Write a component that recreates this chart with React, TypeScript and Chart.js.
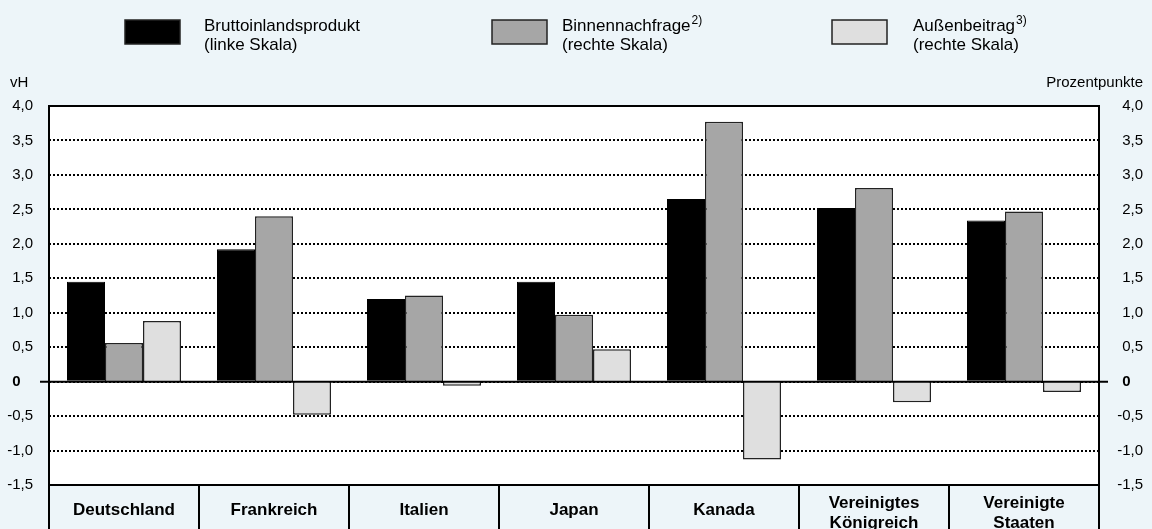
import React, { useEffect, useRef } from "react";
import { Chart, registerables } from "chart.js";

Chart.register(...registerables);

const CATEGORIES: string[][] = [
  ["Deutschland"],
  ["Frankreich"],
  ["Italien"],
  ["Japan"],
  ["Kanada"],
  ["Vereinigtes", "Königreich"],
  ["Vereinigte", "Staaten"],
];
const BIP = [1.45, 1.92, 1.2, 1.45, 2.65, 2.52, 2.34];
const BINNEN = [0.56, 2.4, 1.25, 0.97, 3.77, 2.81, 2.47];
const AUSSEN = [0.88, -0.48, -0.06, 0.47, -1.13, -0.3, -0.15];

const SERIES_NAMES = ["Bruttoinlandsprodukt", "Binnennachfrage", "Außenbeitrag"];
const SERIES_SUPERSCRIPTS = ["", "2)", "3)"];
const SERIES_SCALES = ["(linke Skala)", "(rechte Skala)", "(rechte Skala)"];
const SERIES_COLORS = ["#000000", "#a6a6a6", "#dfdfdf"];

const Y_MIN = -1.5;
const Y_MAX = 4;
const Y_STEP = 0.5;
const LEFT_AXIS_TITLE = "vH";
const RIGHT_AXIS_TITLE = "Prozentpunkte";

const BG = "#edf5f9";
const FONT = "'Liberation Sans', Arial, Helvetica, sans-serif";

const fmtTick = (v: number) => (v === 0 ? "0   " : v.toFixed(1).replace(".", ","));

const LEGEND_BOX_X = [125, 492, 832];
const LEGEND_TEXT_X = [204, 562, 913];

const decorPlugin = {
  id: "decor",
  beforeDraw(chart: any) {
    const { ctx, chartArea: a, width, height } = chart;
    ctx.save();
    ctx.fillStyle = BG;
    ctx.fillRect(0, 0, width, height);
    ctx.fillStyle = "#ffffff";
    ctx.fillRect(a.left, a.top, a.right - a.left, a.bottom - a.top);
    ctx.restore();
  },
  afterDatasetsDraw(chart: any) {
    const { ctx, chartArea: a } = chart;
    const ys = chart.scales.y;
    const xs = chart.scales.x;
    ctx.save();
    // zero line
    const y0 = ys.getPixelForValue(0);
    ctx.strokeStyle = "#000";
    ctx.lineWidth = 2;
    ctx.beginPath();
    ctx.moveTo(a.left - 9, y0);
    ctx.lineTo(a.right + 9, y0);
    ctx.stroke();
    // plot border
    ctx.strokeRect(a.left, a.top, a.right - a.left, a.bottom - a.top);

    // category labels
    ctx.fillStyle = "#000";
    ctx.font = `bold 17px ${FONT}`;
    ctx.textAlign = "center";
    ctx.textBaseline = "middle";
    const labels = chart.data.labels as string[][];
    labels.forEach((lab, i) => {
      const x = xs.getPixelForValue(i);
      const n = lab.length;
      lab.forEach((line, k) => {
        ctx.fillText(line, x, a.bottom + 25 - (n - 1) * 7 + k * 20);
      });
    });

    // axis titles
    ctx.font = `15px ${FONT}`;
    ctx.textBaseline = "alphabetic";
    ctx.textAlign = "left";
    ctx.fillText(LEFT_AXIS_TITLE, 10, 87);
    ctx.textAlign = "right";
    ctx.fillText(RIGHT_AXIS_TITLE, 1143, 87);

    // legend
    chart.data.datasets.forEach((ds: any, i: number) => {
      const bx = LEGEND_BOX_X[i];
      ctx.fillStyle = ds.backgroundColor;
      ctx.fillRect(bx, 20, 55, 24);
      ctx.strokeStyle = "#222";
      ctx.lineWidth = 1.5;
      ctx.strokeRect(bx, 20, 55, 24);
      ctx.fillStyle = "#000";
      ctx.textAlign = "left";
      ctx.textBaseline = "alphabetic";
      ctx.font = `17px ${FONT}`;
      const tx = LEGEND_TEXT_X[i];
      ctx.fillText(SERIES_NAMES[i], tx, 31);
      const w = ctx.measureText(SERIES_NAMES[i]).width;
      ctx.fillText(SERIES_SCALES[i], tx, 50);
      if (SERIES_SUPERSCRIPTS[i]) {
        ctx.font = `12px ${FONT}`;
        ctx.fillText(SERIES_SUPERSCRIPTS[i], tx + w + 1, 24);
      }
    });
    ctx.restore();
  },
};

export default function App() {
  const ref = useRef<HTMLCanvasElement | null>(null);
  useEffect(() => {
    if (!ref.current) return;
    const tickFont = (c: any) =>
      c.tick && c.tick.value === 0
        ? { family: FONT, size: 15, weight: "bold" as const }
        : { family: FONT, size: 15 };
    const chart = new Chart(ref.current, {
      type: "bar",
      data: {
        labels: CATEGORIES as any,
        datasets: [
          {
            label: SERIES_NAMES[0],
            data: BIP,
            yAxisID: "y",
            backgroundColor: SERIES_COLORS[0],
            borderColor: "#000",
            borderWidth: 1,
            barPercentage: 1,
            categoryPercentage: 0.76,
          },
          {
            label: SERIES_NAMES[1],
            data: BINNEN,
            yAxisID: "y1",
            backgroundColor: SERIES_COLORS[1],
            borderColor: "#222",
            borderWidth: 1.5,
            barPercentage: 1,
            categoryPercentage: 0.76,
          },
          {
            label: SERIES_NAMES[2],
            data: AUSSEN,
            yAxisID: "y1",
            backgroundColor: SERIES_COLORS[2],
            borderColor: "#222",
            borderWidth: 1.5,
            barPercentage: 1,
            categoryPercentage: 0.76,
          },
        ],
      },
      options: {
        animation: false,
        responsive: false,
        devicePixelRatio: 1,
        layout: { padding: { top: 106, right: 9, left: 0, bottom: 0 } },
        plugins: { legend: { display: false }, tooltip: { enabled: false } },
        scales: {
          x: {
            type: "category",
            offset: true,
            grid: {
              offset: true,
              drawOnChartArea: false,
              drawTicks: true,
              tickLength: 44,
              color: "#000",
              lineWidth: 2,
            },
            border: { display: false },
            ticks: { display: false },
            afterFit: (s: any) => {
              s.height = 44;
            },
          },
          y: {
            type: "linear",
            position: "left",
            min: Y_MIN,
            max: Y_MAX,
            ticks: {
              stepSize: Y_STEP,
              color: "#000",
              padding: 16,
              font: tickFont,
              callback: (v: any) => fmtTick(Number(v)),
            },
            grid: { color: "#000", lineWidth: 2, drawTicks: false },
            border: { display: false, dash: [2, 2] },
            afterFit: (s: any) => {
              s.width = 49;
            },
          },
          y1: {
            type: "linear",
            position: "right",
            min: Y_MIN,
            max: Y_MAX,
            ticks: {
              stepSize: Y_STEP,
              color: "#000",
              crossAlign: "far",
              font: tickFont,
              callback: (v: any) => fmtTick(Number(v)),
            },
            grid: { display: false, drawTicks: false },
            border: { display: false },
            afterFit: (s: any) => {
              s.width = 44;
            },
          },
        },
      },
      plugins: [decorPlugin],
    });
    return () => chart.destroy();
  }, []);
  return (
    <div
      style={{
        position: "fixed",
        left: 0,
        top: 0,
        width: 1152,
        height: 529,
        background: BG,
        overflow: "hidden",
      }}
    >
      <canvas ref={ref} width={1152} height={529} style={{ display: "block", width: 1152, height: 529 }} />
    </div>
  );
}
